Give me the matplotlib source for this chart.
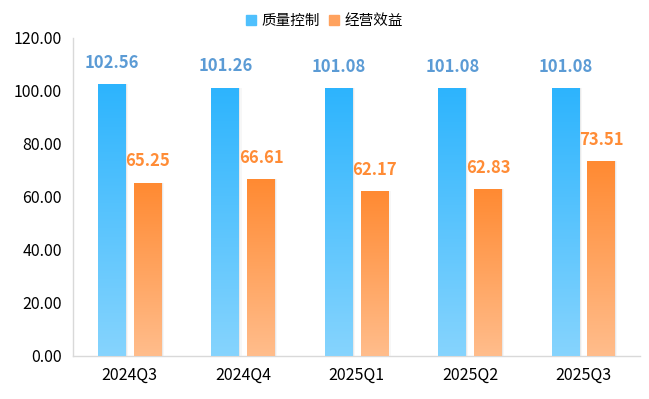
import matplotlib
matplotlib.use('Agg')
import matplotlib.pyplot as plt
import numpy as np
from matplotlib.colors import LinearSegmentedColormap
from matplotlib.patches import Rectangle

plt.rcParams['font.family'] = ['Noto Sans CJK SC', 'DejaVu Sans']

categories = ['2024Q3', '2024Q4', '2025Q1', '2025Q2', '2025Q3']
quality = [102.56, 101.26, 101.08, 101.08, 101.08]
benefit = [65.25, 66.61, 62.17, 62.83, 73.51]
series_names = ['质量控制', '经营效益']

blue_cmap = LinearSegmentedColormap.from_list('b', ['#86d4fd', '#2db4fe'])
orange_cmap = LinearSegmentedColormap.from_list('o', ['#ffbd8c', '#ff8a32'])

fig = plt.figure(figsize=(6.49, 3.99), dpi=100)
ax = fig.add_axes([0.1125, 0.108, 0.874, 0.797])

x = np.arange(len(categories))
w = 0.245
off = 0.157


def grad_bars(xs, vals, cmap, label_color):
    bars = ax.bar(xs, vals, width=w, color='none', zorder=3)
    grad = np.linspace(0, 1, 256).reshape(-1, 1)
    for b, v in zip(bars, vals):
        x0 = b.get_x()
        # soft shadow on the right side
        for k, a in enumerate([0.14, 0.07]):
            ax.add_patch(Rectangle((x0 + 0.01 * (k + 1), 0), w, v, color='#9a9a9a',
                                  alpha=a, lw=0, zorder=2))
        im = ax.imshow(grad, cmap=cmap, aspect='auto', origin='lower',
                       extent=(x0, x0 + w, 0, v), zorder=3)
        im.set_clip_path(b)
        ax.annotate(f'{v:.2f}', (x0 + w / 2, v), xytext=(0, 9), textcoords='offset points',
                    ha='center', va='bottom', fontsize=12, fontweight='bold', color=label_color)


grad_bars(x - off, quality, blue_cmap, '#5b9bd5')
grad_bars(x + off, benefit, orange_cmap, '#ff8c36')

ax.set_xlim(-0.5, len(categories) - 0.5)
ax.set_ylim(0, 120)
ax.set_yticks(np.arange(0, 121, 20))
ax.set_yticklabels([f'{t:.2f}' for t in np.arange(0, 121, 20)])
ax.set_xticks(x)
ax.set_xticklabels(categories)
ax.tick_params(axis='both', length=0, labelsize=11.5, colors='#000000')
ax.tick_params(axis='y', pad=8)
ax.tick_params(axis='x', pad=8)
for s in ['top', 'right']:
    ax.spines[s].set_visible(False)
for s in ['left', 'bottom']:
    ax.spines[s].set_color('#d9d9d9')
    ax.spines[s].set_linewidth(1)

# legend
handles = [Rectangle((0, 0), 1, 1, color='#4fc0fd'), Rectangle((0, 0), 1, 1, color='#ffa25e')]
fig.legend(handles, series_names, loc='center', bbox_to_anchor=(0.5, 0.948), ncol=2, frameon=False,
           fontsize=10.5, handlelength=0.7, handleheight=0.7, handletextpad=0.4, columnspacing=0.6)

fig.savefig('out.png', dpi=100)
